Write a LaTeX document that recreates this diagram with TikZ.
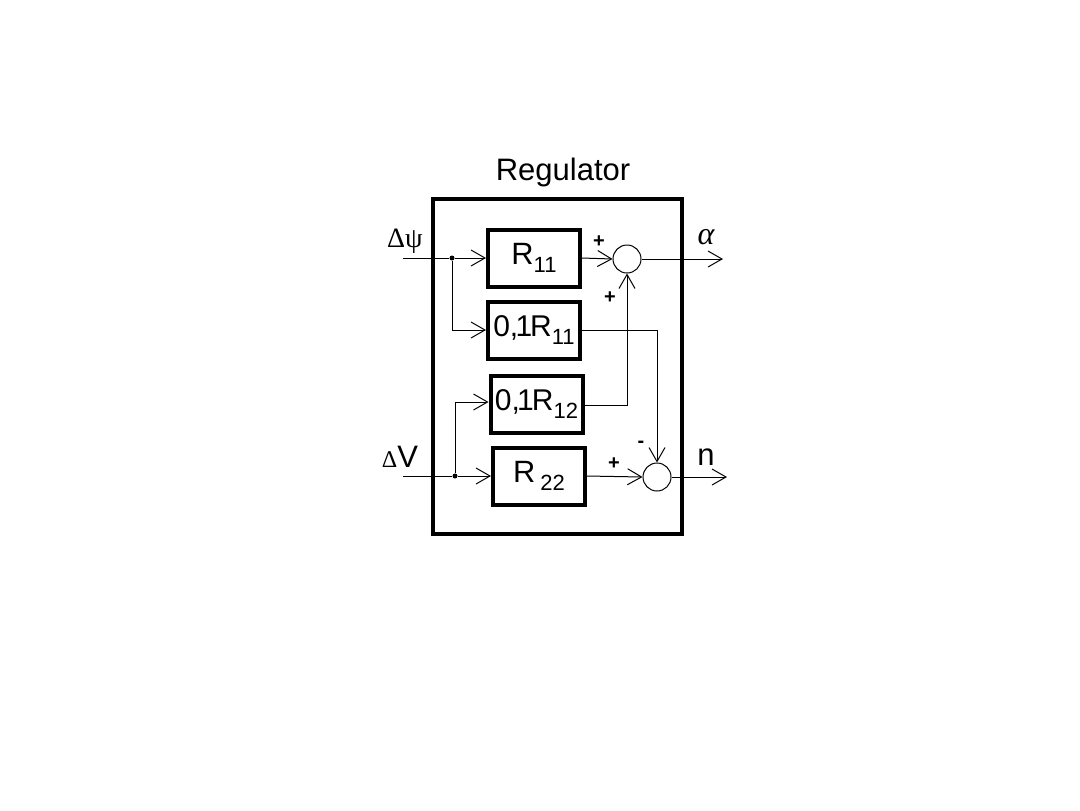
\documentclass[tikz,border=0pt]{standalone}
\usepackage{fontspec}
\setmainfont{Liberation Sans}
\newfontfamily\grk{Liberation Serif}
\usetikzlibrary{arrows.meta}
\begin{document}
\begin{tikzpicture}[x=0.5pt,y=-0.5pt,
  blk/.style={draw,line width=2pt,rectangle,inner sep=0pt,minimum width=46pt,minimum height=28.5pt,font=\fontsize{15.4}{18}\selectfont},
  sumc/.style={draw,line width=0.5pt,circle,inner sep=0pt,minimum size=14pt},
  wire/.style={line width=0.5pt},
  arr/.style={wire,-{Straight Barb[length=7pt,width=8pt,line width=0.5pt]}},
  sgn/.style={font=\fontsize{10}{12}\selectfont\bfseries,inner sep=0pt},
  lbl/.style={inner sep=0pt,anchor=base},
  dot/.style={circle,fill,inner sep=0pt,minimum size=2.5pt}]
\useasboundingbox (0,0) rectangle (1080,810);
\newcommand{\sbs}[1]{\raisebox{-0.28em}{\fontsize{11}{13}\selectfont #1}}
\newcommand{\pt}{\fontsize{15}{17}\selectfont 0,\kern-1.4pt1\kern-1pt R}
% outer box
\node[draw,line width=2pt,rectangle,inner sep=0pt,minimum width=124.5pt,minimum height=167.5pt] (reg) at (557.5,366.5) {};
\node[lbl,font=\fontsize{15.5}{18}\selectfont] (title) at (563,180) {Regulator};
% blocks
\node[blk] (r11) at (534,258) {R\sbs{11}};
\node[blk] (r11b) at (534,330) {\pt\sbs{11}};
\node[blk] (r12) at (536.5,404) {\pt\sbs{12}};
\node[blk] (r22) at (539,476) {R\,\sbs{22}};
% summing junctions
\node[sumc] (s1) at (627,259) {};
\node[sumc] (s2) at (657,477) {};
% free ends
\coordinate (in1) at (403,258);
\coordinate (in2) at (403,476);
\coordinate (out1) at (723,259);
\coordinate (out2) at (727,477);
\node[dot] (j1) at (452,258) {};
\node[dot] (j2) at (455,476) {};
% wires
\draw[wire] (in1) -- (j1);
\draw[arr] (j1) -- (r11.west);
\draw[arr] (j1) |- (r11b.west);
\draw[wire] (in2) -- (j2);
\draw[arr] (j2) -- (r22.west);
\draw[arr] (j2) |- ([yshift=1pt]r12.west);
\draw[arr] (r11.east) -- (s1.west);
\draw[arr] ([yshift=-0.5pt]r12.east) -| (s1.south);
\draw[arr] (r11b.east) -| (s2.north);
\draw[arr] (r22.east) -- (s2.west);
\draw[arr] (s1.east) -- (out1);
\draw[arr] (s2.east) -- (out2);
% labels
\node[lbl] (lpsi) at (405,247) {{\grk\fontsize{14}{16}\selectfont Δψ}};
\node[lbl] (lv) at (400,467) {{\grk\fontsize{12}{14}\selectfont Δ}{\fontsize{15.5}{18}\selectfont V}};
\node[lbl] (lal) at (706,244) {{\grk\itshape\fontsize{16}{18}\selectfont α}};
\node[lbl] (ln) at (706,465) {{\fontsize{15.5}{18}\selectfont n}};
\node[sgn] (p1) at (599,242) {+};
\node[sgn] (p2) at (610,298) {+};
\node[sgn] (m1) at (641,444) {-};
\node[sgn] (p3) at (614,464) {+};
\end{tikzpicture}
\end{document}
